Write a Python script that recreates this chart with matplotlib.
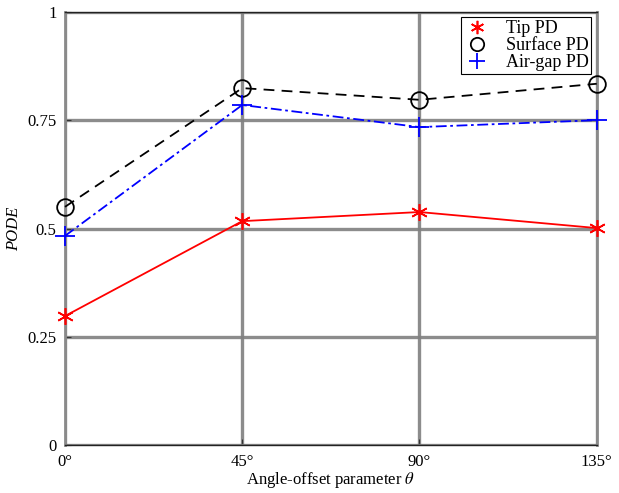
import matplotlib.pyplot as plt

plt.rcParams['font.family'] = ['Liberation Serif', 'DejaVu Serif']
plt.rcParams['mathtext.fontset'] = 'stix'

angles = [0, 45, 90, 135]
angle_labels = ['0°', '45°', '90°', '135°']
tip_pd = [0.298, 0.517, 0.538, 0.501]
surface_pd = [0.550, 0.824, 0.797, 0.834]
airgap_pd = [0.483, 0.785, 0.734, 0.750]
y_ticks = [0, 0.25, 0.5, 0.75, 1]
y_labels = ['0', '0.25', '0.5', '0.75', '1']

fig = plt.figure(figsize=(6.19, 4.93), dpi=100)
ax = fig.add_axes([0.105, 0.097, 0.859, 0.879])

ax.plot(angles, tip_pd, color='red', linestyle='-', linewidth=1.3,
        marker=(6, 2, 0), markersize=12, markeredgewidth=1.2, label='Tip PD',
        clip_on=False, zorder=5)
ax.plot(angles, surface_pd, color='black', linestyle=(0, (6, 4)), linewidth=1.3,
        marker='o', markersize=12, markerfacecolor='none', markeredgewidth=1.3,
        label='Surface PD', clip_on=False, zorder=5)
ax.plot(angles, airgap_pd, color='blue', linestyle=(0, (6, 2, 1.5, 2)), linewidth=1.3,
        marker='+', markersize=15, markeredgewidth=1.3, label='Air-gap PD',
        clip_on=False, zorder=5)

ax.set_xlim(0, 135)
ax.set_ylim(0, 1)
ax.set_xticks(angles)
ax.set_xticklabels(angle_labels, fontsize=12)
ax.set_yticks(y_ticks)
ax.set_yticklabels(y_labels, fontsize=12)
ax.tick_params(direction='in', length=4, pad=6, color='#333333')
ax.grid(True, color='#808080', linewidth=2.4, alpha=0.9)
ax.set_axisbelow(True)
for side in ['left', 'right']:
    ax.spines[side].set_color('#8a8a8a')
    ax.spines[side].set_linewidth(2.0)
for side in ['top', 'bottom']:
    ax.spines[side].set_color('#222222')
    ax.spines[side].set_linewidth(1.0)

ax.set_xlabel(r'Angle-offset parameter $\theta$', fontsize=12, labelpad=0)
ax.set_ylabel('PODE', fontsize=12, style='italic', labelpad=4)

leg = ax.legend(loc='upper right', fontsize=13, frameon=True, fancybox=False,
                edgecolor='black', borderpad=0.15, labelspacing=0.0,
                handlelength=1.4, handletextpad=0.9, borderaxespad=0.3,
                markerscale=0.8, framealpha=1)
leg.get_frame().set_linewidth(0.8)
leg.set_zorder(10)
for line in leg.get_lines():
    line.set_linestyle('none')

fig.savefig('out.png', dpi=100)
